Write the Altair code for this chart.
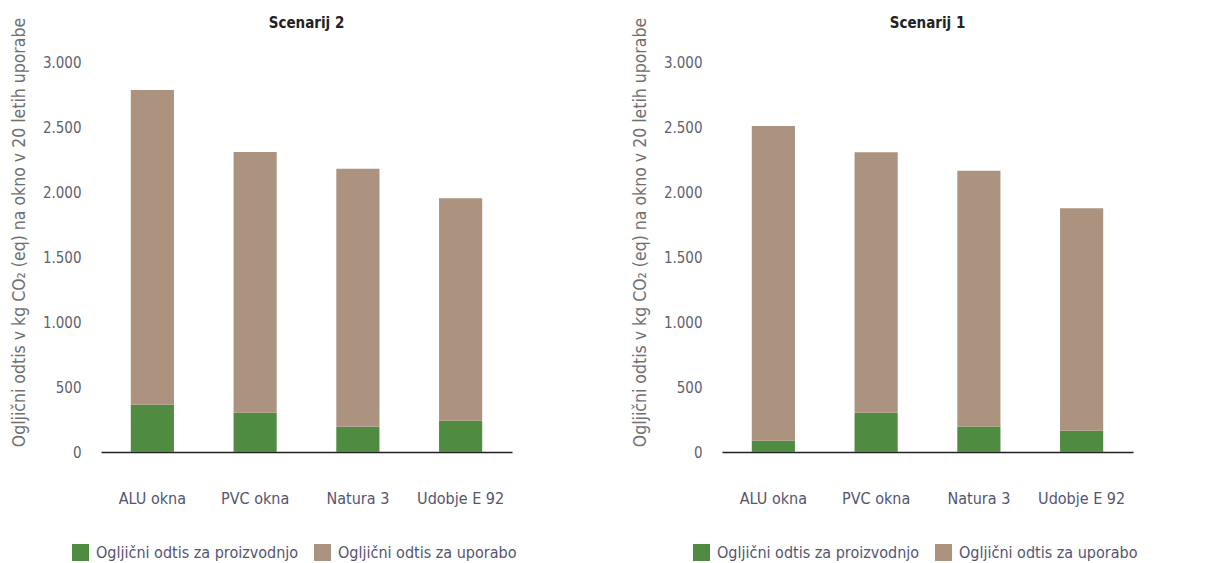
import altair as alt
import pandas as pd

FONT = "'Liberation Sans Narrow', 'DejaVu Sans Condensed', Roboto, sans-serif"

windows = ["ALU okna", "PVC okna", "Natura 3", "Udobje E 92"]
series = ["Ogljični odtis za proizvodnjo", "Ogljični odtis za uporabo"]
colors = ["#4f8b41", "#ab9380"]

# Scenarij 2 (left)
s2_production = [364, 302, 195, 241]
s2_use = [2421, 2006, 1984, 1710]
# Scenarij 1 (right)
s1_production = [87, 302, 197, 164]
s1_use = [2421, 2003, 1967, 1711]

y_ticks = [0, 500, 1000, 1500, 2000, 2500, 3000]
y_title = "Ogljični odtis v kg CO₂ (eq) na okno v 20 letih uporabe"


def panel(title, prod, use):
    rows = []
    for w, p, u in zip(windows, prod, use):
        rows.append({"okno": w, "vrsta": series[0], "vrednost": p, "red": 0})
        rows.append({"okno": w, "vrsta": series[1], "vrednost": u, "red": 1})
    df = pd.DataFrame(rows)
    return (
        alt.Chart(
            df,
            title=alt.TitleParams(
                title, fontSize=15, fontWeight="bold", font=FONT, color="#222222",
                anchor="middle", offset=-14,
            ),
        )
        .mark_bar()
        .encode(
            x=alt.X(
                "okno:N", sort=windows,
                scale=alt.Scale(paddingInner=0.58, paddingOuter=0.29),
                axis=alt.Axis(
                    title=None, labelAngle=0, ticks=False, labelPadding=38,
                    labelFontSize=16, labelFont=FONT, labelColor="#545470",
                    domainColor="#222222", domainWidth=1.3,
                ),
            ),
            y=alt.Y(
                "vrednost:Q", stack="zero",
                scale=alt.Scale(domain=[0, 3000], nice=False),
                axis=alt.Axis(
                    title=y_title, values=y_ticks, grid=False, domain=False, ticks=False,
                    labelPadding=20, labelFontSize=15, labelFont=FONT, labelColor="#5f5f6e",
                    labelExpr="replace(format(datum.value, ','), ',', '.')",
                    titleFont=FONT, titleFontSize=17.5, titleFontWeight="normal",
                    titleColor="#707070", titleX=-82, titleY=170, titleAngle=270,
                    titleAlign="center", titleBaseline="middle",
                ),
            ),
            color=alt.Color(
                "vrsta:N",
                scale=alt.Scale(domain=series, range=colors),
                legend=alt.Legend(
                    title=None, orient="none", direction="horizontal",
                    legendX=-29, legendY=482, symbolType="square", symbolSize=289,
                    symbolStrokeWidth=0, labelFontSize=16, labelFont=FONT, labelLimit=400,
                    labelColor="#545470", columnPadding=15, labelOffset=7,
                ),
            ),
            order=alt.Order("red:Q", sort="ascending"),
        )
        .properties(width=411, height=390)
    )


left = panel("Scenarij 2", s2_production, s2_use)
right = panel("Scenarij 1", s1_production, s1_use)

chart = (
    alt.hconcat(left, right, spacing=113)
    .resolve_legend(color="independent")
    .properties(padding={"left": 9, "top": 16, "right": 5, "bottom": 0}, background="white")
    .configure_view(stroke=None)
)

chart.save("out.html", embed_options={"renderer": "svg", "actions": False})
